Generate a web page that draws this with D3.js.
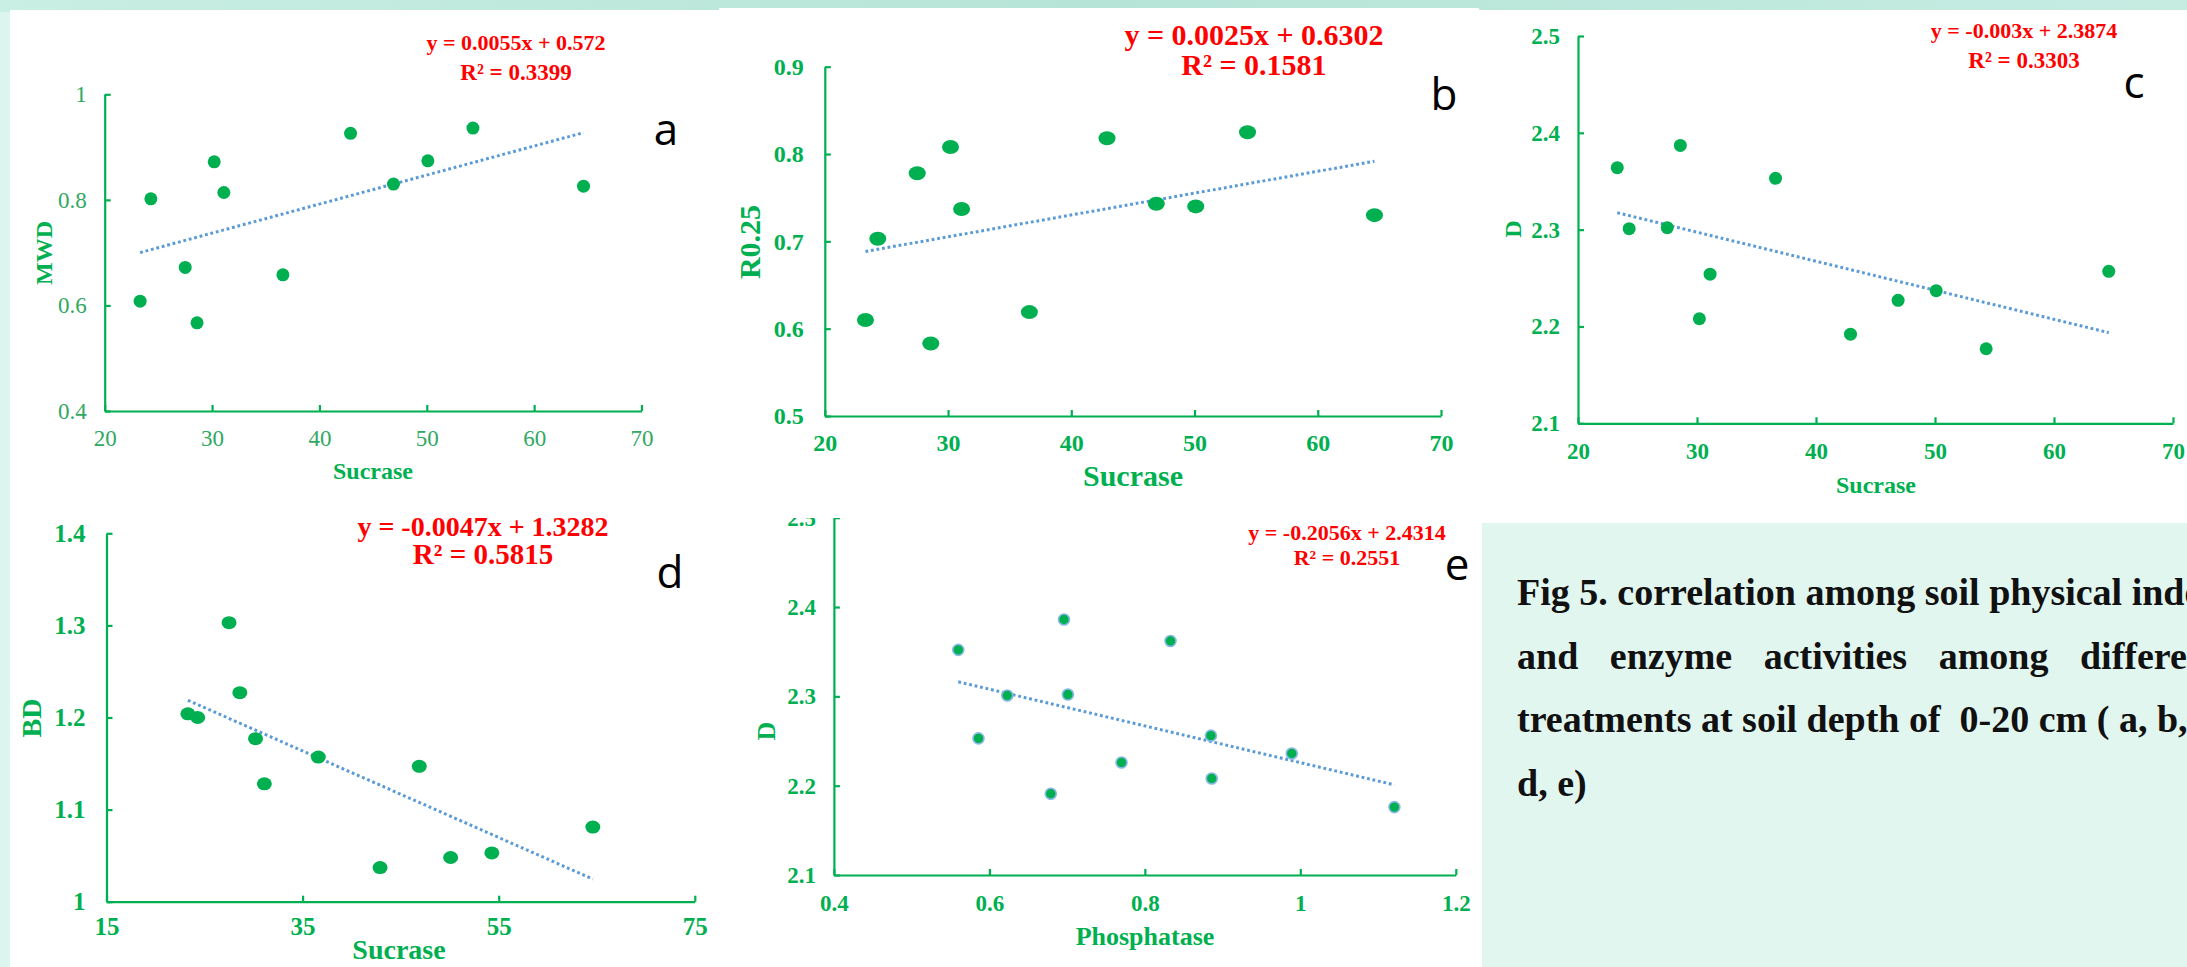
<!DOCTYPE html>
<html>
<head>
<meta charset="utf-8">
<script src="https://cdn.jsdelivr.net/npm/d3@7"></script>
<style>
  html, body { margin: 0; padding: 0; background: #dcf5ee; }
  svg { display: block; }
</style>
</head>
<body>
<div id="chart"></div>
<script>
// ---- data ----
const sucrase = [23.3, 24.3, 27.5, 28.6, 30.2, 31.1, 36.6, 42.9, 46.9, 50.1, 54.3, 64.6];
const phosphatase = [0.560, 0.586, 0.623, 0.679, 0.696, 0.701, 0.770, 0.833, 0.885, 0.886, 0.989, 1.121];

const mwd = [0.608, 0.802, 0.672, 0.567, 0.872, 0.814, 0.658, 0.926, 0.830, 0.874, 0.936, 0.826];
const r025 = [0.610, 0.703, 0.778, 0.583, 0.808, 0.737, 0.619, 0.818, 0.743, 0.740, 0.825, 0.730];
const fractalD = [2.364, 2.301, 2.302, 2.387, 2.208, 2.254, 2.353, 2.192, 2.227, 2.237, 2.177, 2.257];
const bd = [1.204, 1.200, 1.303, 1.227, 1.177, 1.128, 1.157, 1.037, 1.147, 1.048, 1.053, 1.081];
const fractalDbyP = [2.352, 2.253, 2.301, 2.191, 2.386, 2.302, 2.226, 2.362, 2.256, 2.208, 2.236, 2.176];

// trend lines as printed on each panel (a..e)
const eqSlope = [0.0055, 0.0025, -0.003, -0.0047, -0.2056];
const eqIntercept = [0.572, 0.6302, 2.3874, 1.3282, 2.4314];
const rSquared = ['0.3399', '0.1581', '0.3303', '0.5815', '0.2551'];

// axis ticks
const sucraseTicks = [20, 30, 40, 50, 60, 70];
const sucraseTicksD = [15, 35, 55, 75];
const phosTicks = [0.4, 0.6, 0.8, 1, 1.2];
const mwdTicks = [0.4, 0.6, 0.8, 1];
const r025Ticks = [0.5, 0.6, 0.7, 0.8, 0.9];
const dTicks = [2.1, 2.2, 2.3, 2.4, 2.5];
const bdTicks = [1, 1.1, 1.2, 1.3, 1.4];

const caption = [
  'Fig 5. correlation among soil physical indexes',
  'and enzyme activities among different',
  'treatments at soil depth of  0-20 cm ( a, b, c,',
  'd, e)'
];

// ---- layout ----
const W = 2187, H = 967;
const GREEN = '#00b050', RED = '#ff0000', TREND = '#5b9bd5';
const SERIF = '"Liberation Serif", "Times New Roman", serif';

const panels = [
  { tag: 'a', xs: sucrase, ys: mwd, xDom: [20, 70], yDom: [0.4, 1], xTicks: sucraseTicks, yTicks: mwdTicks,
    xTitle: 'Sucrase', yTitle: 'MWD', l: 104.7, r: 641.5, t: 94.3, b: 411,
    tickSize: 23, tickWeight: 'normal', tickColor: '#2fa862', xLab: 27, yLab: 18,
    titleSize: 24, xTitlePos: [373, 479], yTitlePos: [44, 253],
    eqSize: 22, rSize: 23, eqPos: [516, 50, 80], letterPos: [666, 145], rx: 6.5, ry: 6.5 },
  { tag: 'b', xs: sucrase, ys: r025, xDom: [20, 70], yDom: [0.5, 0.9], xTicks: sucraseTicks, yTicks: r025Ticks,
    xTitle: 'Sucrase', yTitle: 'R0.25', l: 824.8, r: 1441, t: 66.7, b: 416,
    tickSize: 24, tickWeight: 'bold', tickColor: GREEN, xLab: 27, yLab: 21,
    titleSize: 30, xTitlePos: [1133, 486], yTitlePos: [749, 242],
    eqSize: 30, rSize: 30, eqPos: [1254, 45, 75], letterPos: [1444, 110], rx: 8.5, ry: 7 },
  { tag: 'c', xs: sucrase, ys: fractalD, xDom: [20, 70], yDom: [2.1, 2.5], xTicks: sucraseTicks, yTicks: dTicks,
    xTitle: 'Sucrase', yTitle: 'D', l: 1578, r: 2173, t: 36, b: 423.3,
    tickSize: 23, tickWeight: 'bold', tickColor: GREEN, xLab: 28, yLab: 18,
    titleSize: 24, xTitlePos: [1876, 493], yTitlePos: [1513, 229],
    eqSize: 22, rSize: 23, eqPos: [2024, 38, 68], letterPos: [2134, 98], rx: 6.5, ry: 6.5 },
  { tag: 'd', xs: sucrase, ys: bd, xDom: [15, 75], yDom: [1, 1.4], xTicks: sucraseTicksD, yTicks: bdTicks,
    xTitle: 'Sucrase', yTitle: 'BD', l: 106.5, r: 694.8, t: 533.3, b: 901.7,
    tickSize: 25, tickWeight: 'bold', tickColor: GREEN, xLab: 25, yLab: 21,
    titleSize: 28, xTitlePos: [399, 959], yTitlePos: [31, 718],
    eqSize: 28, rSize: 29, eqPos: [483, 536, 564], letterPos: [670, 588], rx: 7.5, ry: 6.5 },
  { tag: 'e', xs: phosphatase, ys: fractalDbyP, xDom: [0.4, 1.2], yDom: [2.1, 2.5], xTicks: phosTicks, yTicks: dTicks,
    xTitle: 'Phosphatase', yTitle: 'D', l: 833.9, r: 1455.8, t: 517.7, b: 875,
    tickSize: 23, tickWeight: 'bold', tickColor: GREEN, xLab: 28, yLab: 18,
    titleSize: 26, xTitlePos: [1145, 945], yTitlePos: [766, 731],
    eqSize: 22, rSize: 22, eqPos: [1347, 540, 565], letterPos: [1457, 580], rx: 5.5, ry: 5.5,
    dotStroke: '#8ab8e6', clipTop: 518 }
];

const svg = d3.select('#chart').append('svg')
  .attr('width', W)
  .attr('height', H);

// backdrop: mint slide with a white sheet and the caption card
const defs = svg.append('defs');
const grad = defs.append('linearGradient').attr('id', 'topStrip');
grad.append('stop').attr('offset', '0%').attr('stop-color', '#c9eee3');
grad.append('stop').attr('offset', '50%').attr('stop-color', '#b6e4d7');
grad.append('stop').attr('offset', '100%').attr('stop-color', '#c6ece2');

svg.append('rect').attr('width', W).attr('height', H).attr('fill', '#dcf6ef');
svg.append('rect').attr('width', W).attr('height', 12).attr('fill', 'url(#topStrip)');
svg.append('rect').attr('x', 10).attr('y', 10).attr('width', 710).attr('height', H).attr('fill', '#fff');
svg.append('rect').attr('x', 719).attr('y', 8).attr('width', 760).attr('height', H).attr('fill', '#fff');
svg.append('rect').attr('x', 1478).attr('y', 10).attr('width', W).attr('height', H).attr('fill', '#fff');
svg.append('rect').attr('x', 1482).attr('y', 523).attr('width', W).attr('height', H).attr('fill', '#e2f6f0');

function drawPanel(p, i) {
  const g = svg.append('g').attr('class', 'panel-' + p.tag);

  if (p.clipTop) {
    defs.append('clipPath').attr('id', 'clip-' + p.tag)
      .append('rect').attr('x', 0).attr('y', p.clipTop).attr('width', W).attr('height', H);
    g.attr('clip-path', `url(#clip-${p.tag})`);
  }

  const x = d3.scaleLinear().domain(p.xDom).range([p.l, p.r]);
  const y = d3.scaleLinear().domain(p.yDom).range([p.b, p.t]);

  const styleAxis = (sel, isX) => {
    sel.attr('font-family', SERIF).attr('font-size', p.tickSize);
    sel.selectAll('path, line').attr('stroke', GREEN).attr('stroke-width', 2.2);
    sel.selectAll('text')
      .attr('fill', p.tickColor)
      .attr('font-weight', p.tickWeight);
    if (isX) sel.selectAll('text').attr('y', p.xLab).attr('dy', '0.35em');
  };

  g.append('g')
    .attr('transform', `translate(0,${p.b})`)
    .call(d3.axisBottom(x).tickValues(p.xTicks).tickFormat(String).tickSizeInner(-6).tickSizeOuter(0))
    .call(s => styleAxis(s, true));

  g.append('g')
    .attr('transform', `translate(${p.l},0)`)
    .call(d3.axisLeft(y).tickValues(p.yTicks).tickFormat(String).tickSizeInner(-6).tickSizeOuter(0).tickPadding(p.yLab))
    .call(s => styleAxis(s, false));

  // axis titles
  g.append('text')
    .attr('x', p.xTitlePos[0]).attr('y', p.xTitlePos[1])
    .attr('text-anchor', 'middle')
    .attr('font-family', SERIF).attr('font-weight', 'bold').attr('font-size', p.titleSize)
    .attr('fill', GREEN)
    .text(p.xTitle);

  g.append('text')
    .attr('transform', `translate(${p.yTitlePos[0]},${p.yTitlePos[1]}) rotate(-90)`)
    .attr('text-anchor', 'middle').attr('dy', '0.35em')
    .attr('font-family', SERIF).attr('font-weight', 'bold').attr('font-size', p.titleSize)
    .attr('fill', GREEN)
    .text(p.yTitle);

  // linear trend, dotted
  const ext = d3.extent(p.xs);
  const trend = ext.map(v => [v, eqSlope[i] * v + eqIntercept[i]]);
  g.append('path')
    .datum(trend)
    .attr('d', d3.line().x(d => x(d[0])).y(d => y(d[1])))
    .attr('fill', 'none')
    .attr('stroke', TREND)
    .attr('stroke-width', 3)
    .attr('stroke-dasharray', '2.8,2.8');

  // points
  g.selectAll('ellipse.pt')
    .data(p.xs.map((v, k) => [v, p.ys[k]]))
    .enter().append('ellipse')
    .attr('class', 'pt')
    .attr('cx', d => x(d[0]))
    .attr('cy', d => y(d[1]))
    .attr('rx', p.rx)
    .attr('ry', p.ry)
    .attr('fill', GREEN)
    .attr('stroke', p.dotStroke || 'none')
    .attr('stroke-width', p.dotStroke ? 1.6 : 0);

  // regression equation
  const eq = g.append('g')
    .attr('font-family', SERIF).attr('font-weight', 'bold')
    .attr('fill', RED).attr('text-anchor', 'middle');
  eq.append('text')
    .attr('x', p.eqPos[0]).attr('y', p.eqPos[1])
    .attr('font-size', p.eqSize)
    .text(`y = ${eqSlope[i]}x + ${eqIntercept[i]}`);
  eq.append('text')
    .attr('x', p.eqPos[0]).attr('y', p.eqPos[2])
    .attr('font-size', p.rSize)
    .text(`R² = ${rSquared[i]}`);

  // panel letter
  g.append('text')
    .attr('x', p.letterPos[0]).attr('y', p.letterPos[1])
    .attr('text-anchor', 'middle')
    .attr('font-family', '"Open Sans", "Noto Sans", sans-serif')
    .attr('font-size', 44)
    .attr('fill', '#000')
    .text(p.tag);
}

panels.forEach(drawPanel);

// caption (the slide crops it at the right edge, as in the source)
const cap = svg.append('g')
  .attr('font-family', SERIF)
  .attr('font-weight', 'bold')
  .attr('font-size', 38)
  .attr('fill', '#111');
cap.selectAll('text')
  .data(caption)
  .enter().append('text')
  .attr('x', 1517)
  .attr('y', (d, k) => 605 + k * 63.5)
  .attr('xml:space', 'preserve')
  .style('white-space', 'pre')
  .attr('word-spacing', (d, k) => k === 1 ? 22 : 0)
  .text(d => d);
</script>
</body>
</html>
